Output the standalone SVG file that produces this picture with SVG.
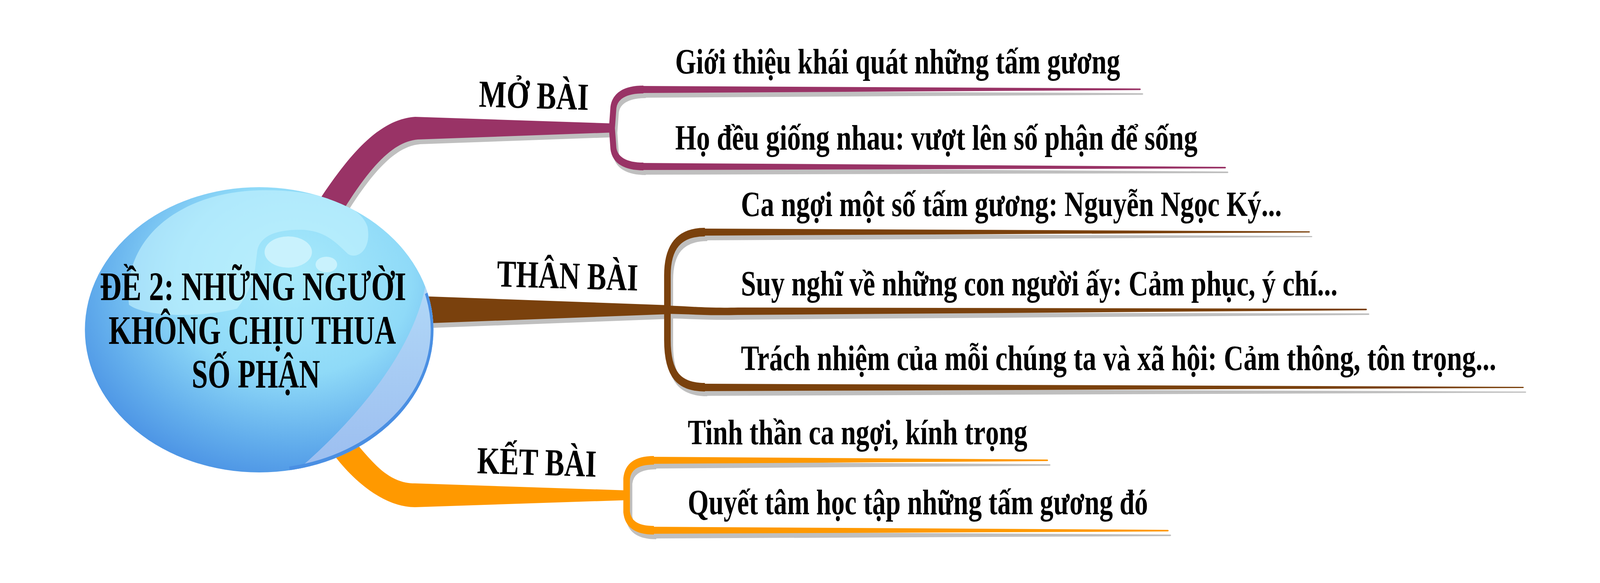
<svg xmlns="http://www.w3.org/2000/svg" xmlns:xlink="http://www.w3.org/1999/xlink" width="5334" height="1492" viewBox="0 0 5334 1492" preserveAspectRatio="none">
<style>
svg { width: 100vw; height: 100vh; display: block; }
text { font-family: "Liberation Serif", "Times New Roman", serif; font-weight: bold; fill: #000; }
.c { font-size: 104px; }
.l { font-size: 98px; }
.i { font-size: 91px; }
</style>
<defs>
  <clipPath id="bubClip"><ellipse cx="864" cy="844" rx="581" ry="365"/></clipPath>
  <radialGradient id="gBody" cx="0.6" cy="0.35" r="0.75" fx="0.6" fy="0.3">
    <stop offset="0" stop-color="#A8EAFB"/>
    <stop offset="0.45" stop-color="#8FDAF8"/>
    <stop offset="0.75" stop-color="#62ADEC"/>
    <stop offset="1" stop-color="#4288E1"/>
  </radialGradient>
  <linearGradient id="gCres" x1="0" y1="0" x2="0" y2="1">
    <stop offset="0" stop-color="#B3DAF8"/>
    <stop offset="1" stop-color="#97B8EE"/>
  </linearGradient>
  <g id="cMo">
    <path stroke="none" d="M1030,610 L1072,503 C1160,403 1260,305 1384,299 L2045,316 L2045,339 L1393,357 C1320,362 1250,410 1153,527 L1110,610 Z"/>
    <path fill="none" stroke-width="20" d="M2145,229 C2085,229 2050,245 2045,275 L2040,328 L2045,380 C2050,410 2085,426 2145,426"/>
    <path stroke="none" d="M2140,220 L3801,226.5 Q3805,228.5 3801,230.5 L2140,238 Z"/>
    <path stroke="none" d="M2140,417 L4085,427 Q4089,429 4085,431 L2140,435 Z"/>
  </g>
  <g id="cThan">
    <path stroke="none" d="M1300,755 L2225,781 L2225,804 L1300,831 Z"/>
    <path fill="none" stroke-width="22" d="M2350,594 C2265,594 2225,630 2225,705 L2225,870 C2225,960 2265,991 2350,991"/>
    <path stroke="none" d="M2345,585 L4365,592 Q4369,593.5 4365,595 L2345,603 Z"/>
    <path stroke="none" d="M2225,782 C2300,784 2360,789 2460,787 L4555,790 Q4559,792 4555,794 L2460,806 C2360,808 2300,804 2225,803 Z"/>
    <path stroke="none" d="M2345,982 L5078,990 Q5082,991.5 5078,993 L2345,1001 Z"/>
  </g>
  <g id="cKetB">
    <path fill="none" stroke-width="22" d="M2180,1178 C2120,1178 2093,1195 2089,1225 L2089,1310 C2093,1340 2120,1357 2180,1357"/>
    <path stroke="none" d="M2175,1169 L3492,1176 Q3496,1178 3492,1180 L2175,1187 Z"/>
    <path stroke="none" d="M2175,1348 L3894,1356 Q3898,1358 3894,1360 L2175,1366 Z"/>
  </g>
</defs>

<rect x="0" y="0" width="5334" height="1492" fill="#FFFFFF"/>

<g id="connectors">
  <use xlink:href="#cMo" href="#cMo" transform="translate(8,12)" fill="#BFBFBF" stroke="#BFBFBF"/>
  <use xlink:href="#cMo" href="#cMo" fill="#993366" stroke="#993366"/>
  <use xlink:href="#cThan" href="#cThan" transform="translate(8,12)" fill="#BFBFBF" stroke="#BFBFBF"/>
  <use xlink:href="#cThan" href="#cThan" fill="#7A410D" stroke="#7A410D"/>
  <use xlink:href="#cKetB" href="#cKetB" transform="translate(8,12)" fill="#BFBFBF" stroke="#BFBFBF"/>
  <path fill="#FF9900" d="M1060,1100 L1120,1171 C1180,1230 1280,1298 1383,1298 L2089,1280 L2089,1255 L1383,1237 C1300,1237 1250,1190 1196,1142 L1150,1080 Z"/>
  <use xlink:href="#cKetB" href="#cKetB" fill="#FF9900" stroke="#FF9900"/>
</g>

<g id="node-center">
  <ellipse cx="864" cy="844" rx="581" ry="365" fill="url(#gBody)"/>
  <g clip-path="url(#bubClip)">
    <path fill="url(#gCres)" d="M1425,690 C1410,860 1220,1060 950,1230 L1520,1300 L1520,690 Z"/>
    <path fill="none" stroke="#4A8FE3" stroke-width="18" d="M1425,749 A581,365 0 0 1 965,1203"/>
    <path fill="#C2F1FD" fill-opacity="0.65" d="M430,780 C405,610 600,492 864,487 C1050,484 1200,520 1225,580 C1240,640 1190,665 1160,650 C1120,620 1080,588 1000,588 C930,588 870,600 858,640 L850,690 C840,730 820,760 790,790 C660,815 480,810 430,780 Z"/>
    <ellipse cx="961" cy="645" rx="79" ry="40" fill="#C9F2FD"/>
    <ellipse cx="1088" cy="677" rx="36" ry="20" fill="#C9F2FD"/>
  </g>
  <text class="c" x="333" y="768" textLength="1021" lengthAdjust="spacingAndGlyphs">ĐỀ 2: NHỮNG NGƯỜI</text>
  <text class="c" x="362" y="880" textLength="958" lengthAdjust="spacingAndGlyphs">KHÔNG CHỊU THUA</text>
  <text class="c" x="639" y="992" textLength="428" lengthAdjust="spacingAndGlyphs">SỐ PHẬN</text>
</g>

<g id="node-mobai">
  <text class="l" x="1596" y="273" transform="rotate(1.3 1596 273)" textLength="366" lengthAdjust="spacingAndGlyphs">MỞ BÀI</text>
</g>
<g id="node-thanbai">
  <text class="l" x="1656" y="733" transform="rotate(1.3 1656 733)" textLength="471" lengthAdjust="spacingAndGlyphs">THÂN BÀI</text>
</g>
<g id="node-ketbai">
  <text class="l" x="1590" y="1211" transform="rotate(1.3 1590 1211)" textLength="398" lengthAdjust="spacingAndGlyphs">KẾT BÀI</text>
</g>

<g id="node-mo-1"><text class="i" x="2251" y="188" textLength="1483" lengthAdjust="spacingAndGlyphs">Giới thiệu khái quát những tấm gương</text></g>
<g id="node-mo-2"><text class="i" x="2251" y="383" textLength="1741" lengthAdjust="spacingAndGlyphs">Họ đều giống nhau: vượt lên số phận để sống</text></g>
<g id="node-than-1"><text class="i" x="2470" y="553" textLength="1803" lengthAdjust="spacingAndGlyphs">Ca ngợi một số tấm gương: Nguyễn Ngọc Ký...</text></g>
<g id="node-than-2"><text class="i" x="2470" y="756" textLength="1989" lengthAdjust="spacingAndGlyphs">Suy nghĩ về những con người ấy: Cảm phục, ý chí...</text></g>
<g id="node-than-3"><text class="i" x="2470" y="947" textLength="2518" lengthAdjust="spacingAndGlyphs">Trách nhiệm của mỗi chúng ta và xã hội: Cảm thông, tôn trọng...</text></g>
<g id="node-ket-1"><text class="i" x="2293" y="1137" textLength="1132" lengthAdjust="spacingAndGlyphs">Tinh thần ca ngợi, kính trọng</text></g>
<g id="node-ket-2"><text class="i" x="2293" y="1316" textLength="1534" lengthAdjust="spacingAndGlyphs">Quyết tâm học tập những tấm gương đó</text></g>
</svg>
